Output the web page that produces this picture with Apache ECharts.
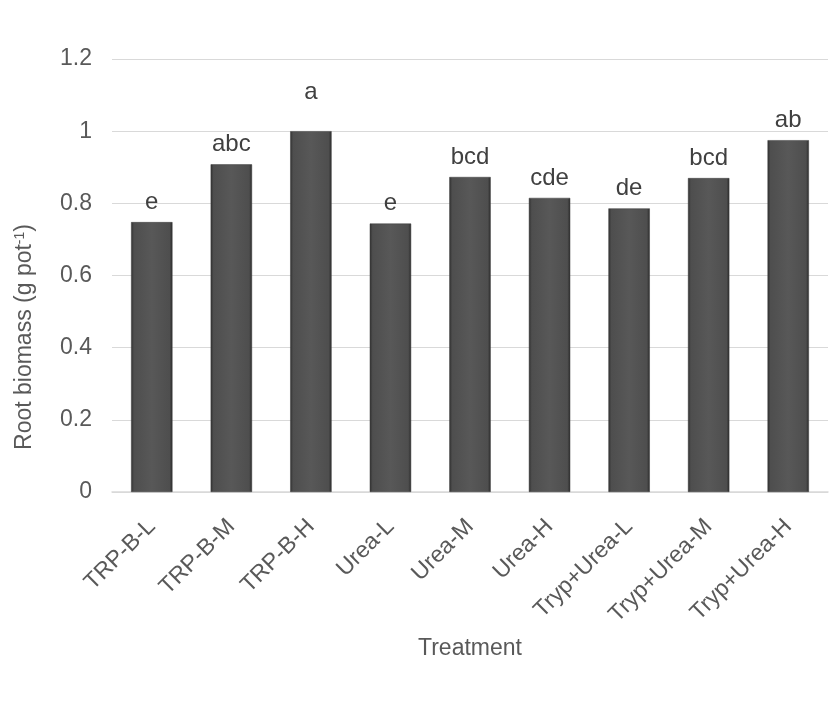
<!DOCTYPE html>
<html>
<head>
<meta charset="utf-8">
<script src="https://cdn.jsdelivr.net/npm/echarts@6/dist/echarts.min.js"></script>
<style>html,body{margin:0;padding:0;background:#fff}#c{width:839px;height:703px}</style>
</head>
<body>
<div id="c"></div>
<script>
var categories = ['TRP-B-L','TRP-B-M','TRP-B-H','Urea-L','Urea-M','Urea-H','Tryp+Urea-L','Tryp+Urea-M','Tryp+Urea-H'];
var values = [0.748, 0.908, 1.0, 0.744, 0.873, 0.815, 0.786, 0.870, 0.975];
var letters = ['e','abc','a','e','bcd','cde','de','bcd','ab'];
var yTicks = [0, 0.2, 0.4, 0.6, 0.8, 1, 1.2];

var font = 'Liberation Sans, Arial, sans-serif';
var chart = echarts.init(document.getElementById('c'), null, {renderer:'canvas'});
var barColor = new echarts.graphic.LinearGradient(0,0,1,0,[
  {offset:0,color:'#2f2f2f'},{offset:0.07,color:'#4e4e4e'},{offset:0.5,color:'#585858'},
  {offset:0.93,color:'#4e4e4e'},{offset:1,color:'#2a2a2a'}]);
chart.setOption({
  animation:false,
  backgroundColor:'#fff',
  grid:{left:112,right:11,top:59,bottom:211},
  xAxis:{
    type:'category', data:categories,
    axisLine:{lineStyle:{color:'#d9d9d9',width:1.5}},
    axisTick:{show:false},
    axisLabel:{rotate:45,margin:31,color:'#595959',fontSize:23,fontFamily:font,interval:0},
    name:'Treatment', nameLocation:'middle', nameGap:145,
    nameTextStyle:{color:'#595959',fontSize:23,fontFamily:font}
  },
  yAxis:{
    type:'value', min:0, max:1.2, interval:0.2,
    axisLine:{show:false}, axisTick:{show:false},
    splitLine:{lineStyle:{color:'#d9d9d9',width:1}},
    axisLabel:{margin:20,color:'#595959',fontSize:23,fontFamily:font,
      formatter:function(v){var r=yTicks.find(function(t){return Math.abs(t-v)<1e-9});return String(r===undefined?v:r);}}
  },
  graphic:[{
    type:'text', x:25, y:337, rotation:Math.PI/2,
    style:{text:'Root biomass (g pot{sup|-1})', align:'center', verticalAlign:'middle',
      fill:'#595959', font:'23px '+font,
      rich:{sup:{fontSize:14,verticalAlign:'top',padding:[0,0,10,0],fill:'#595959',fontFamily:font}}}
  }],
  series:[{
    type:'bar', barWidth:'52%',
    data:values.map(function(v,i){
      var d={value:v};
      if(i===2){d.label={distance:27};}
      return d;
    }),
    itemStyle:{color:barColor,borderColor:'#3a3a3a',borderWidth:0.5},
    label:{show:true,position:'top',distance:8,color:'#404040',fontSize:24,fontFamily:font,
      formatter:function(p){return letters[p.dataIndex];}}
  }]
});
</script>
</body>
</html>
